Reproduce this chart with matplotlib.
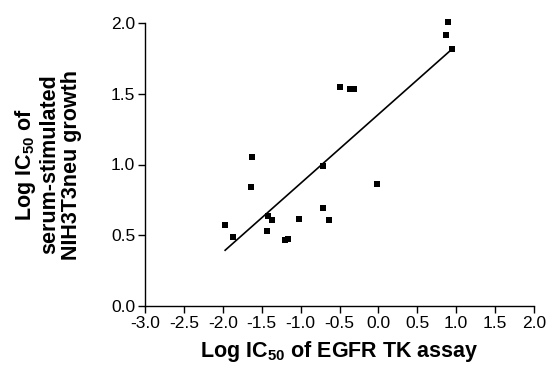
import matplotlib
matplotlib.use("Agg")
import matplotlib.pyplot as plt

# Data
egfr_log_ic50 = [-1.62, -0.715, -1.64, -0.02, -1.97, -1.87, -1.42, -1.37, -1.43,
                 -1.02, -0.715, -0.64, -1.205, -1.16, 0.896, 0.875, 0.947,
                 -0.50, -0.36, -0.32]
growth_log_ic50 = [1.055, 0.99, 0.84, 0.862, 0.57, 0.49, 0.636, 0.605, 0.532,
                   0.617, 0.695, 0.608, 0.466, 0.473, 2.007, 1.917, 1.816,
                   1.55, 1.536, 1.536]
fit_x = [-1.97, 0.947]
fit_y = [0.394, 1.816]

x_ticks = [-3.0, -2.5, -2.0, -1.5, -1.0, -0.5, 0.0, 0.5, 1.0, 1.5, 2.0]
y_ticks = [0.0, 0.5, 1.0, 1.5, 2.0]

plt.rcParams['font.family'] = ['Liberation Sans', 'DejaVu Sans']
plt.rcParams['mathtext.fontset'] = 'custom'
plt.rcParams['mathtext.rm'] = 'Liberation Sans'
plt.rcParams['mathtext.bf'] = 'Liberation Sans:bold'
plt.rcParams['mathtext.default'] = 'bf'

fig = plt.figure(figsize=(5.48, 3.70), dpi=100)
ax = fig.add_axes([145 / 548, 1 - 306 / 370, (534 - 145) / 548, (306 - 23) / 370])

ax.plot(fit_x, fit_y, color='black', lw=1.2, zorder=2)
ax.scatter(egfr_log_ic50, growth_log_ic50, marker='s', s=18, color='black',
           linewidths=0, zorder=3, clip_on=False)

ax.set_xlim(-3.0, 2.0)
ax.set_ylim(0.0, 2.0)
ax.set_xticks(x_ticks)
ax.set_yticks(y_ticks)
ax.set_xticklabels([f"{v:.1f}" for v in x_ticks])
ax.set_yticklabels([f"{v:.1f}" for v in y_ticks])
ax.tick_params(direction='out', length=5, width=1, labelsize=12.5, pad=2)
for s in ['top', 'right']:
    ax.spines[s].set_visible(False)
for s in ['left', 'bottom']:
    ax.spines[s].set_linewidth(1)

ax.set_xlabel(r"Log IC$_{50}$ of EGFR TK assay", fontsize=15.5, fontweight='bold',
              labelpad=6)
ax.set_ylabel("Log IC$_{50}$ of\nserum-stimulated\nNIH3T3neu growth", fontsize=15.5,
              fontweight='bold', labelpad=21, linespacing=1.05)

fig.savefig("out.png", dpi=100)
